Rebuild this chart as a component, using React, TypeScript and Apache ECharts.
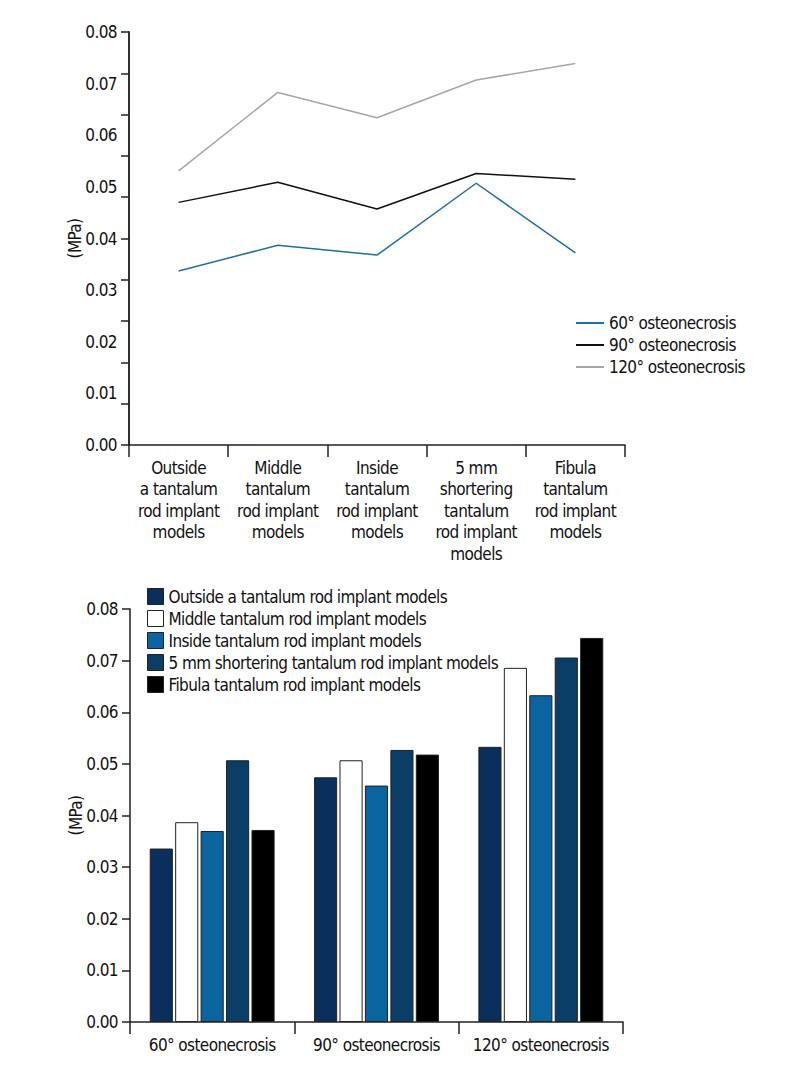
import React, { useEffect, useRef } from "react";
import * as echarts from "echarts";

const modelCats = [
  "Outside\na tantalum\nrod implant\nmodels",
  "Middle\ntantalum\nrod implant\nmodels",
  "Inside\ntantalum\nrod implant\nmodels",
  "5 mm\nshortering\ntantalum\nrod implant\nmodels",
  "Fibula\ntantalum\nrod implant\nmodels",
];
const modelNames = [
  "Outside a tantalum rod implant models",
  "Middle tantalum rod implant models",
  "Inside tantalum rod implant models",
  "5 mm shortering tantalum rod implant models",
  "Fibula tantalum rod implant models",
];
const angleCats = ["60° osteonecrosis", "90° osteonecrosis", "120° osteonecrosis"];

const line60 = [0.0337, 0.0387, 0.0368, 0.0507, 0.0372];
const line90 = [0.047, 0.0509, 0.0457, 0.0526, 0.0515];
const line120 = [0.0531, 0.0683, 0.0634, 0.0707, 0.0739];

const barOutside = [0.0336, 0.0474, 0.0533];
const barMiddle = [0.0387, 0.0507, 0.0686];
const barInside = [0.037, 0.0458, 0.0633];
const barShort = [0.0507, 0.0527, 0.0706];
const barFibula = [0.0372, 0.0518, 0.0744];

const lineColors = ["#1f6fa0", "#111111", "#a6a6a6"];
const barColors = ["#0b2f5c", "#ffffff", "#0a64a0", "#0a3e66", "#000000"];

const FONT = "'DejaVu Sans Condensed', 'DejaVu Sans', sans-serif";
const FS = 17;
const AX = "#222";

export default function App() {
  const ref = useRef<HTMLDivElement>(null);
  useEffect(() => {
    document.body.style.margin = "0";
    const chart = echarts.init(ref.current!, null, { renderer: "svg" });
    const fmt = (v: number) => v.toFixed(2);
    const yLabelAxis = (gridIndex: number, withTicks: boolean) => ({
      type: "value",
      gridIndex,
      position: "left",
      min: 0,
      max: 0.08,
      interval: 0.01,
      name: "(MPa)",
      nameLocation: "middle",
      nameGap: 46,
      nameMoveOverlap: false,
      nameTextStyle: { fontFamily: FONT, fontSize: FS, color: "#111" },
      axisLine: { show: true, lineStyle: { color: AX, width: 1.5 } },
      axisTick: { show: withTicks, inside: false, length: 8, lineStyle: { color: AX, width: 1.5 } },
      axisLabel: { formatter: fmt, margin: 12, fontFamily: FONT, fontSize: FS, color: "#111" },
      splitLine: { show: false },
    });
    const seriesLine = (name: string, data: number[], color: string) => ({
      type: "line",
      name,
      data,
      xAxisIndex: 0,
      yAxisIndex: 0,
      symbol: "none",
      lineStyle: { color, width: 1.5 },
      itemStyle: { color },
    });
    const seriesBar = (name: string, data: number[], color: string) => ({
      type: "bar",
      name,
      data,
      xAxisIndex: 1,
      yAxisIndex: 2,
      barGap: "10%",
      barCategoryGap: "24%",
      itemStyle: { color, borderColor: "#222", borderWidth: 1 },
    });
    chart.setOption({
      animation: false,
      backgroundColor: "#fff",
      textStyle: { fontFamily: FONT },
      grid: [
        { left: 129, top: 32, right: 175, bottom: 635 },
        { left: 130, top: 609, right: 177, bottom: 58 },
      ],
      xAxis: [
        {
          type: "category",
          gridIndex: 0,
          data: modelCats,
          boundaryGap: true,
          axisLine: { lineStyle: { color: AX, width: 1.5 } },
          axisTick: { show: true, length: 12, lineStyle: { color: AX, width: 1.5 } },
          axisLabel: { interval: 0, margin: 12, fontFamily: FONT, fontSize: FS, lineHeight: 21.5, color: "#111" },
        },
        {
          type: "category",
          gridIndex: 1,
          data: angleCats,
          boundaryGap: true,
          axisLine: { lineStyle: { color: AX, width: 1.5 } },
          axisTick: { show: true, length: 12, lineStyle: { color: AX, width: 1.5 } },
          axisLabel: { interval: 0, margin: 14, fontFamily: FONT, fontSize: FS, color: "#111" },
        },
      ],
      yAxis: [
        yLabelAxis(0, false),
        {
          type: "value",
          gridIndex: 0,
          position: "left",
          offset: 0,
          min: 0,
          max: 0.08,
          interval: 0.008,
          axisLine: { show: true, lineStyle: { color: AX, width: 1.5 } },
          axisTick: { show: true, inside: false, length: 8, lineStyle: { color: AX, width: 1.5 } },
          axisLabel: { show: false },
          splitLine: { show: false },
        },
        yLabelAxis(1, true),
      ],
      legend: [
        {
          orient: "vertical",
          left: 571,
          top: 309,
          icon: "rect",
          itemWidth: 28,
          itemHeight: 2,
          itemGap: 4,
          textStyle: { fontFamily: FONT, fontSize: FS, lineHeight: 18, color: "#111" },
          data: ["60° osteonecrosis", "90° osteonecrosis", "120° osteonecrosis"],
        },
        {
          orient: "vertical",
          left: 142,
          top: 583,
          icon: "rect",
          itemWidth: 16,
          itemHeight: 16,
          itemGap: 5,
          itemStyle: { borderColor: "#222", borderWidth: 1 },
          textStyle: { fontFamily: FONT, fontSize: FS, lineHeight: 16, color: "#111" },
          data: modelNames,
        },
      ],
      series: [
        seriesLine("60° osteonecrosis", line60, lineColors[0]),
        seriesLine("90° osteonecrosis", line90, lineColors[1]),
        seriesLine("120° osteonecrosis", line120, lineColors[2]),
        seriesBar(modelNames[0], barOutside, barColors[0]),
        seriesBar(modelNames[1], barMiddle, barColors[1]),
        seriesBar(modelNames[2], barInside, barColors[2]),
        seriesBar(modelNames[3], barShort, barColors[3]),
        seriesBar(modelNames[4], barFibula, barColors[4]),
      ],
    });
    return () => chart.dispose();
  }, []);
  return (
    <>
      <style>{"#root text{font-stretch:condensed;letter-spacing:-0.6px;}"}</style>
      <div ref={ref} style={{ width: 800, height: 1080 }} />
    </>
  );
}
